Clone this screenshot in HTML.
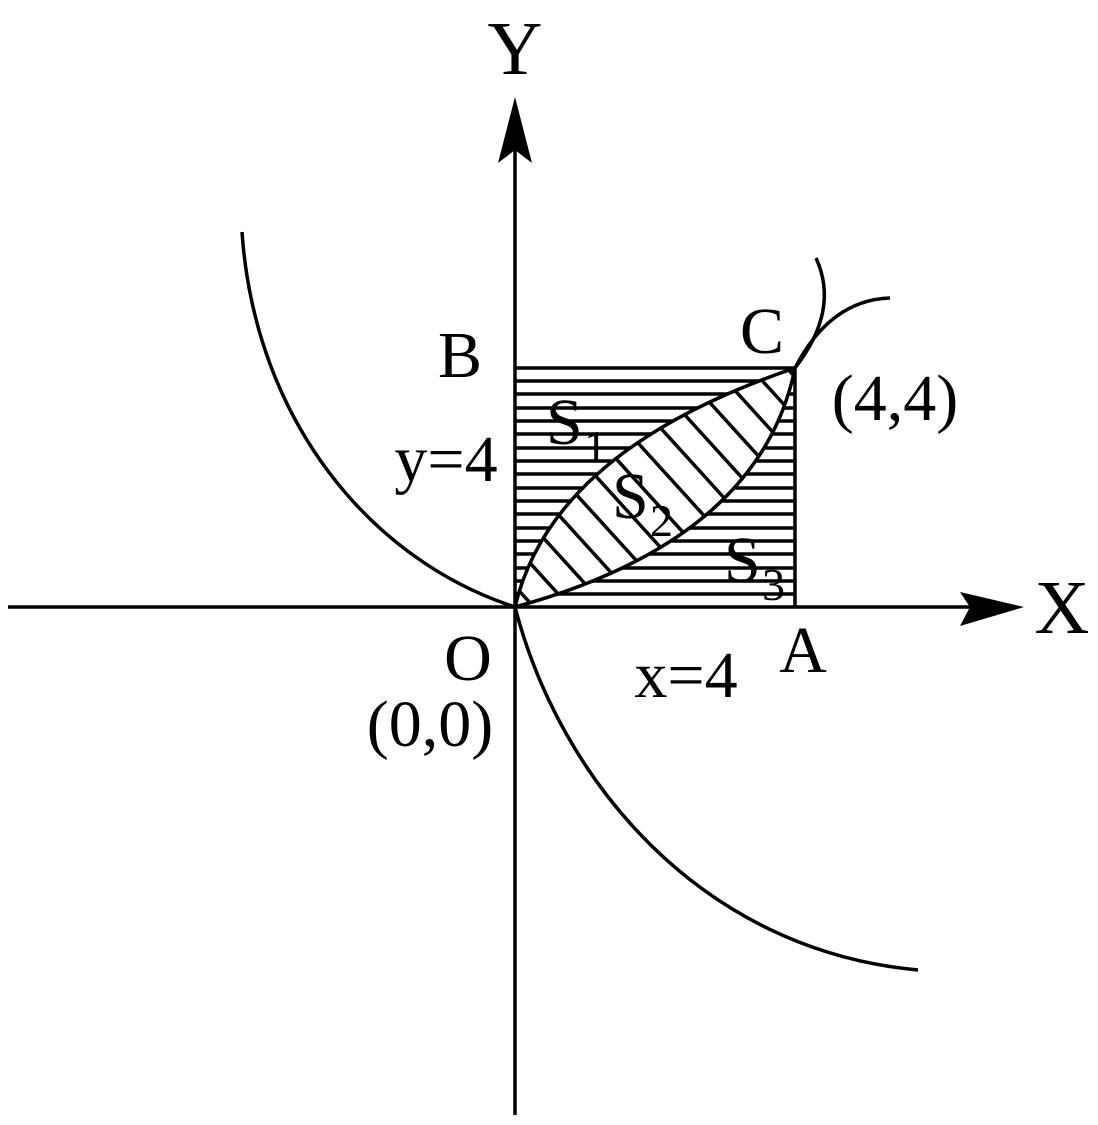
<!DOCTYPE html>
<html><head><meta charset="utf-8"><style>
html,body{margin:0;padding:0;background:#fff}
svg{display:block}
text{font-family:"Liberation Serif",serif;fill:#000}
</style></head><body>
<svg width="1098" height="1125" viewBox="0 0 1098 1125" xmlns="http://www.w3.org/2000/svg">
<defs>
<clipPath id="rect"><rect x="515" y="368" width="280" height="239"/></clipPath>
<clipPath id="lens"><path d="M515,607 Q552,450 795,368 Q760,540 515,607 Z"/></clipPath>
</defs>
<g stroke="#000" stroke-width="3.5" clip-path="url(#rect)">
<line x1="515" y1="381" x2="795" y2="381"/><line x1="515" y1="394" x2="795" y2="394"/>
<line x1="515" y1="408" x2="795" y2="408"/><line x1="515" y1="421" x2="795" y2="421"/>
<line x1="515" y1="434" x2="795" y2="434"/><line x1="515" y1="448" x2="795" y2="448"/>
<line x1="515" y1="461" x2="795" y2="461"/><line x1="515" y1="474" x2="795" y2="474"/>
<line x1="515" y1="488" x2="795" y2="488"/><line x1="515" y1="501" x2="795" y2="501"/>
<line x1="515" y1="514" x2="795" y2="514"/><line x1="515" y1="528" x2="795" y2="528"/>
<line x1="515" y1="541" x2="795" y2="541"/><line x1="515" y1="554" x2="795" y2="554"/>
<line x1="515" y1="568" x2="795" y2="568"/><line x1="515" y1="581" x2="795" y2="581"/>
<line x1="515" y1="594" x2="795" y2="594"/>
</g>
<path d="M515,607 Q552,450 795,368 Q760,540 515,607 Z" fill="#fff"/>
<g stroke="#000" stroke-width="3.5" clip-path="url(#lens)">
<line x1="400" y1="420" x2="600" y2="640"/><line x1="418" y1="400" x2="618" y2="620"/>
<line x1="436" y1="380" x2="636" y2="600"/><line x1="454" y1="360" x2="654" y2="580"/>
<line x1="472" y1="340" x2="672" y2="560"/><line x1="490" y1="320" x2="690" y2="540"/>
<line x1="508" y1="300" x2="708" y2="520"/><line x1="526" y1="280" x2="726" y2="500"/>
<line x1="544" y1="260" x2="744" y2="480"/><line x1="562" y1="240" x2="762" y2="460"/>
<line x1="580" y1="220" x2="780" y2="440"/><line x1="598" y1="200" x2="798" y2="420"/>
<line x1="616" y1="180" x2="816" y2="400"/><line x1="634" y1="160" x2="834" y2="380"/>
<line x1="652" y1="140" x2="852" y2="360"/><line x1="670" y1="120" x2="870" y2="340"/>
<line x1="382" y1="440" x2="582" y2="660"/><line x1="364" y1="460" x2="564" y2="680"/>
</g>
<g fill="none" stroke="#000" stroke-width="3.5">
<path d="M515,368 H795 V607"/>
<path d="M515,607 Q552,450 795,368"/>
<path d="M515,607 Q760,540 795,368"/>
<path d="M795,368 Q830,300 890,298"/>
<path d="M795,368 Q840,310 816,258"/>
<path d="M242,232 C255,420 370,560 515,607"/>
<path d="M515,607 C560,780 700,950 918,970"/>
<line x1="8" y1="607" x2="990" y2="607"/>
<line x1="515" y1="1115" x2="515" y2="150"/>
</g>
<path d="M1024,607 L960,592 L970,607 L960,626 Z" fill="#000"/>
<path d="M515,97 L498,163 L515,150 L532,163 Z" fill="#000"/>
<g font-size="76">
<text x="515" y="74" text-anchor="middle">Y</text>
<text x="1062" y="633" text-anchor="middle">X</text>
</g>
<g font-size="66">
<text x="460" y="377" text-anchor="middle">B</text>
<text x="762" y="353" text-anchor="middle">C</text>
<text x="895" y="420" text-anchor="middle">(4,4)</text>
<text x="446" y="481" text-anchor="middle">y=4</text>
<text x="468" y="680" text-anchor="middle">O</text>
<text x="430" y="746" text-anchor="middle">(0,0)</text>
<text x="686" y="697" text-anchor="middle">x=4</text>
<text x="803" y="672" text-anchor="middle">A</text>
<text x="546" y="444">S</text><text x="584" y="462" font-size="46">1</text>
<text x="612" y="518">S</text><text x="650" y="536" font-size="46">2</text>
<text x="724" y="582">S</text><text x="762" y="600" font-size="46">3</text>
</g>
</svg>
</body></html>
